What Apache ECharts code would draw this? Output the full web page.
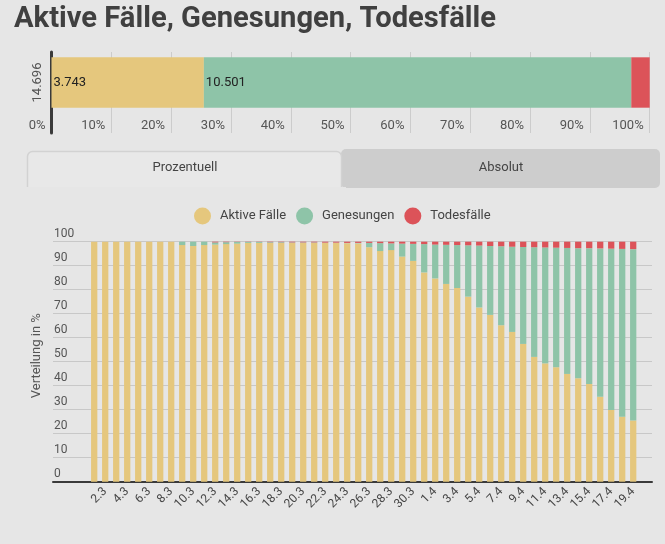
<!DOCTYPE html>
<html>
<head>
<meta charset="utf-8">
<script src="https://cdn.jsdelivr.net/npm/echarts@6/dist/echarts.min.js"></script>
<style>
html,body{margin:0;padding:0;background:#e6e6e6;}
#chart{width:665px;height:544px;}
</style>
</head>
<body>
<div id="chart"></div>
<script>
// ---- data ----
const seriesNames = ['Aktive Fälle', 'Genesungen', 'Todesfälle'];
const colors = ['#e5c77d', '#8ec4a8', '#dc5359'];

// summary bar (absolute numbers)
const totalLabel = '14.696';
const totalCases = 14696;
const summaryActive = 3743;
const summaryRecovered = 10501;
const summaryDeaths = 452;
const summaryTicks = [0, 10, 20, 30, 40, 50, 60, 70, 80, 90, 100];

// daily distribution in %
const days = ['1.3','2.3','3.3','4.3','5.3','6.3','7.3','8.3','9.3','10.3',
  '11.3','12.3','13.3','14.3','15.3','16.3','17.3','18.3','19.3','20.3',
  '21.3','22.3','23.3','24.3','25.3','26.3','27.3','28.3','29.3','30.3',
  '31.3','1.4','2.4','3.4','4.4','5.4','6.4','7.4','8.4','9.4',
  '10.4','11.4','12.4','13.4','14.4','15.4','16.4','17.4','18.4','19.4'];
const activePct = [100,100,100,100,100,100,100,100,98.6,98.2,
  98.6,98.8,99.0,99.2,99.5,99.5,99.5,99.5,99.5,99.5,
  99.5,99.5,99.5,99.4,99.3,97.7,96.1,96.5,93.8,92.0,
  87.2,84.7,82.4,80.7,77.1,72.6,69.5,65.2,62.4,57.4,
  52.0,49.3,47.7,44.9,43.1,40.7,35.4,29.9,27.1,25.5];
const recoveredPct = [0,0,0,0,0,0,0,0,1.4,1.8,
  1.4,0.9,0.8,0.7,0.4,0.4,0.3,0.3,0.2,0.2,
  0.2,0.1,0.1,0.1,0.2,1.8,3.3,2.8,5.4,7.1,
  11.8,14.1,16.3,17.9,21.4,25.8,28.7,32.9,35.5,40.4,
  45.7,48.3,49.8,52.5,54.2,56.6,61.8,67.2,69.9,71.4];
const deathsPct = [0,0,0,0,0,0,0,0,0,0,
  0,0.3,0.2,0.1,0.1,0.1,0.2,0.2,0.3,0.3,
  0.3,0.4,0.4,0.5,0.5,0.5,0.6,0.7,0.8,0.9,
  1.0,1.2,1.3,1.4,1.5,1.6,1.8,1.9,2.1,2.2,
  2.3,2.4,2.5,2.6,2.7,2.7,2.8,2.9,3.0,3.1];
const pctTicks = [0,10,20,30,40,50,60,70,80,90,100];

// ---- chart ----
const font = "Roboto, sans-serif";
const fmtDe = n => String(n).replace(/\B(?=(\d{3})+(?!\d))/g, '.');

const chart = echarts.init(document.getElementById('chart'));
const option = {
  backgroundColor: '#e6e6e6',
  animation: false,
  color: colors,
  textStyle: { fontFamily: font },
  legend: {
    data: seriesNames,
    left: 189, top: 202.5,
    icon: 'circle', itemWidth: 17, itemHeight: 17, itemGap: 10,
    textStyle: { fontFamily: font, fontSize: 13, color: '#444', padding: [0, 0, 0, 4] }
  },
  graphic: [
    { type: 'text', x: 14, y: 4, scaleX: 0.972, z: 10,
      style: { text: 'Aktive Fälle, Genesungen, Todesfälle', fontFamily: font,
        fontWeight: 'bold', fontSize: 30, fill: '#404040' } },
    { type: 'rect', shape: { x: 341, y: 149, width: 319, height: 39, r: 5 },
      style: { fill: '#cdcdcd' }, z: 1 },
    { type: 'rect', shape: { x: 27.5, y: 151.5, width: 314, height: 40, r: [5,5,0,0] },
      style: { fill: '#e8e8e8', stroke: '#d2d2d2', lineWidth: 1.5 }, z: 2 },
    { type: 'rect', shape: { x: 26, y: 187, width: 320, height: 8 },
      style: { fill: '#e6e6e6' }, z: 3 },
    { type: 'text', x: 185, y: 168, z: 4,
      style: { text: 'Prozentuell', align: 'center', verticalAlign: 'middle',
        fontFamily: font, fontSize: 13, fill: '#444' } },
    { type: 'text', x: 501, y: 168, z: 4,
      style: { text: 'Absolut', align: 'center', verticalAlign: 'middle',
        fontFamily: font, fontSize: 13, fill: '#444' } }
  ],
  grid: [
    { left: 51.5, right: 15.3, top: 52, height: 81 },
    { left: 51.5, right: 15.3, top: 57.3, height: 50.4 },
    { left: 53, right: 13, top: 241.7, height: 240 },
    { left: 88.7, right: 26.3, top: 241.7, height: 240 }
  ],
  xAxis: [
    { gridIndex: 0, type: 'value', min: 0, max: 100, interval: 10, position: 'bottom',
      axisLine: { show: false }, axisTick: { show: false },
      axisLabel: { inside: true, margin: 1, align: 'right', padding: [0, 6, 0, 0],
        color: '#555', fontSize: 13,
        formatter: v => summaryTicks.indexOf(v) >= 0 ? v + '%' : '' },
      splitLine: { show: true, lineStyle: { color: '#cccccc', width: 1 } } },
    { gridIndex: 1, type: 'value', min: 0, max: totalCases, show: false },
    { gridIndex: 2, type: 'value', min: 0, max: 1,
      axisLine: { show: true, lineStyle: { color: '#3a3a3a', width: 2 } },
      axisTick: { show: false }, axisLabel: { show: false }, splitLine: { show: false } },
    { gridIndex: 3, type: 'category', data: days,
      axisLine: { show: false }, axisTick: { show: false },
      axisLabel: { interval: (i) => i % 2 === 1, rotate: 45, margin: 8,
        color: '#444', fontSize: 12 } }
  ],
  yAxis: [
    { gridIndex: 0, type: 'value', min: 0, max: 1,
      axisLine: { show: true, lineStyle: { color: '#3a3a3a', width: 3 } },
      axisTick: { show: false }, axisLabel: { show: false }, splitLine: { show: false } },
    { gridIndex: 1, type: 'category', data: [totalLabel],
      axisLine: { show: false }, axisTick: { show: false },
      axisLabel: { rotate: 90, margin: 7, color: '#555', fontSize: 13 } },
    { gridIndex: 2, type: 'value', min: 0, max: 100, interval: 10,
      axisLine: { show: false }, axisTick: { show: false },
      axisLabel: { inside: true, margin: 1, verticalAlign: 'bottom', padding: [0, 0, 2, 0],
        color: '#555', fontSize: 12,
        formatter: v => pctTicks.indexOf(v) >= 0 ? String(v) : '' },
      splitLine: { show: true, lineStyle: { color: '#c8c8c8', width: 1 } },
      name: 'Verteilung in %', nameLocation: 'middle', nameRotate: 90, nameGap: 8,
      nameTextStyle: { color: '#555', fontSize: 13, padding: [0, 0, 0, 12] } },
    { gridIndex: 3, type: 'value', min: 0, max: 100, show: false }
  ],
  series: [
    { name: seriesNames[0], type: 'bar', xAxisIndex: 1, yAxisIndex: 1, stack: 'sum',
      barCategoryGap: '0%', data: [summaryActive],
      label: { show: true, position: 'insideLeft', distance: 2, color: '#222', fontSize: 13,
        formatter: p => fmtDe(p.value) } },
    { name: seriesNames[1], type: 'bar', xAxisIndex: 1, yAxisIndex: 1, stack: 'sum',
      barCategoryGap: '0%', data: [summaryRecovered],
      label: { show: true, position: 'insideLeft', distance: 2, color: '#222', fontSize: 13,
        formatter: p => fmtDe(p.value) } },
    { name: seriesNames[2], type: 'bar', xAxisIndex: 1, yAxisIndex: 1, stack: 'sum',
      barCategoryGap: '0%', data: [summaryDeaths] },
    { name: seriesNames[0], type: 'bar', xAxisIndex: 3, yAxisIndex: 3, stack: 'pct',
      barCategoryGap: '43%', data: activePct },
    { name: seriesNames[1], type: 'bar', xAxisIndex: 3, yAxisIndex: 3, stack: 'pct',
      barCategoryGap: '43%', data: recoveredPct },
    { name: seriesNames[2], type: 'bar', xAxisIndex: 3, yAxisIndex: 3, stack: 'pct',
      barCategoryGap: '43%', data: deathsPct }
  ]
};
chart.setOption(option);
</script>
</body>
</html>
